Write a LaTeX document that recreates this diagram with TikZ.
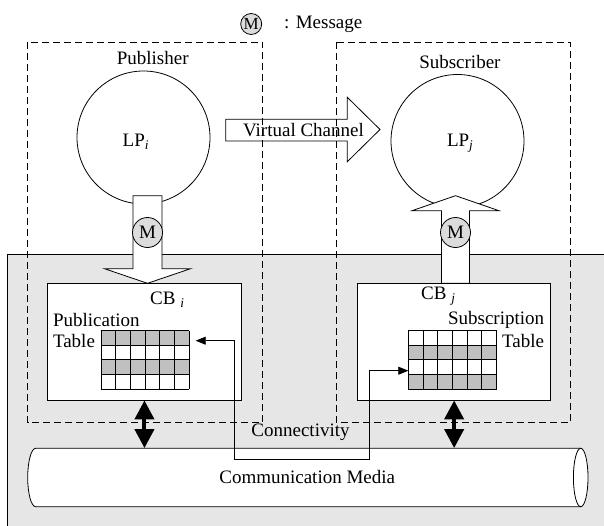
\documentclass[tikz,border=0pt]{standalone}
\usepackage{fontspec}
\setmainfont{Liberation Serif}
\usetikzlibrary{arrows.meta}
\definecolor{bandgray}{HTML}{E6E6E6}
\definecolor{cellgray}{HTML}{C0C0C0}
\definecolor{msggray}{HTML}{DCDCDC}
\begin{document}
\begin{tikzpicture}[x=1pt,y=-1pt,
  every node/.style={font=\fontsize{19pt}{22pt}\selectfont, inner sep=0pt},
  ln/.style={line width=0.8pt},
  dashbox/.style={line width=0.8pt, dash pattern=on 7pt off 4pt},
  msg/.style={circle, draw, line width=0.8pt, fill=msggray, minimum size=30pt},
  lpcircle/.style={circle, draw, line width=0.8pt, minimum size=133pt},
  cbbox/.style={rectangle, draw, line width=0.8pt, fill=white, minimum height=116.7pt},
  tablebox/.style={rectangle, minimum width=88.2pt, minimum height=58.3pt},
  bigarrow/.style={draw, fill=white, line width=0.8pt, line join=miter},
  dbl/.style={line width=4pt, {Triangle[length=19pt,width=19pt]}-{Triangle[length=19pt,width=19pt]}},
  chan/.style={line width=0.8pt, {Triangle[length=10pt,width=8pt]}-{Triangle[length=10pt,width=8pt]}}
]
\useasboundingbox (0,0) rectangle (604,525);

% legend
\node[msg, minimum size=21pt, font=\fontsize{17pt}{19pt}\selectfont] (legm) at (251.2,24) {M};
\node[anchor=west] (legtxt) at (284,24.5) {: Message};

% gray connectivity band
\path[fill=bandgray, draw, line width=0.8pt] (7.3,254) rectangle (640,560);

% logical processes
\node[lpcircle] (lpi) at (143.5,137.5) {};
\node[lpcircle] (lpj) at (457.5,141) {};

% publisher down arrow
\path[bigarrow] (133,195.7) -- (162,195.7) -- (162,268.7) -- (190.5,268.7) -- (147.5,283.3)
  -- (104.5,268.7) -- (133,268.7) -- cycle;
% subscriber up arrow
\path[bigarrow] (441.5,283.3) -- (441.5,210.7) -- (412,210.7) -- (455.5,195.7) -- (499,210.7)
  -- (469.5,210.7) -- (469.5,283.3) -- cycle;
% virtual channel arrow
\path[bigarrow] (225.7,119.3) -- (347.3,119.3) -- (347.3,97.3) -- (380,129.5) -- (347.3,161.7)
  -- (347.3,141) -- (225.7,141) -- cycle;

% message circles on arrows
\node[msg] (mi) at (147.5,232.5) {M};
\node[msg] (mj) at (455.5,232.5) {M};

% connectivity blocks
\node[cbbox, minimum width=194.1pt] (cbi) at (144.45,341.65) {};
\node[cbbox, minimum width=193.3pt] (cbj) at (454.15,341.65) {};

% dashed publisher / subscriber boxes
\draw[dashbox] (27.7,42.3) rectangle (262.7,422.7);
\draw[dashbox] (336.3,42.3) rectangle (570.1,422.7);

% labels
\node (pub) at (152.7,57.5) {Publisher};
\node (sub) at (459.9,61.5) {Subscriber};
\node[anchor=base west] (lpit) at (122.5,146.3) {LP\textsubscript{\itshape i}};
\node[anchor=base west] (lpjt) at (446.8,146.3) {LP\textsubscript{\itshape j}};
\node (vc) at (303.5,129.8) {Virtual Channel};
\node[anchor=base west] (cbit) at (150,304.6) {CB \textsubscript{\itshape i}};
\node[anchor=base west] (cbjt) at (421,299.6) {CB \textsubscript{\itshape j}};
\node[anchor=west] (publab) at (52.8,319.8) {Publication};
\node[anchor=west] (pubtl) at (52.8,341.2) {Table};
\node[anchor=east] (sublab) at (544.3,319.8) {Subscription};
\node[anchor=east] (subtl) at (544.3,341.2) {Table};

% tables
\node[tablebox] (pubtab) at (145,359.85) {};
\node[tablebox] (subtab) at (452.4,359.85) {};
\fill[cellgray] (100.9,330.7) rectangle (189.1,345.275);
\fill[cellgray] (100.9,359.85) rectangle (189.1,374.425);
\fill[cellgray] (408.3,345.275) rectangle (496.5,359.85);
\fill[cellgray] (408.3,374.425) rectangle (496.5,389);
\foreach \k in {0,...,6} {
  \draw[ln] (100.9+\k*14.7,330.7) -- (100.9+\k*14.7,389);
  \draw[ln] (408.3+\k*14.7,330.7) -- (408.3+\k*14.7,389);
}
\foreach \k in {0,...,4} {
  \draw[ln] (100.9,330.7+\k*14.575) -- (189.1,330.7+\k*14.575);
  \draw[ln] (408.3,330.7+\k*14.575) -- (496.5,330.7+\k*14.575);
}

% communication media cylinder
\node[minimum width=545pt, minimum height=58.4pt] (media) at (308.2,477.5) {};
\path[fill=white, draw, line width=0.8pt] (580.7,448.3) -- (35.7,448.3)
  arc[start angle=90, end angle=270, x radius=8pt, y radius=29.2pt] -- (580.7,506.7) -- cycle;
\draw[fill=white, line width=0.8pt] (580.7,477.5) ellipse [x radius=7.3pt, y radius=29.2pt];
\node (mediat) at (307.2,477) {Communication Media};
\node (conn) at (300.5,432.7) {Connectivity};

% double arrows between blocks and media
\draw[dbl] (cbi.south) -- (cbi.south |- media.north);
\draw[dbl] (cbj.south) -- (cbj.south |- media.north);

% connector between the tables
\coordinate (pt) at (195.7,340.7);
\coordinate (c1) at (234.2,340.7);
\coordinate (c2) at (234.2,459);
\coordinate (c3) at (369.8,459);
\coordinate (c4) at (369.8,370.7);
\coordinate (st) at (408.3,370.7);
\draw[chan] (pt) -- (c1) -- (c2) -- (c3) -- (c4) -- (st);
\end{tikzpicture}
\end{document}
